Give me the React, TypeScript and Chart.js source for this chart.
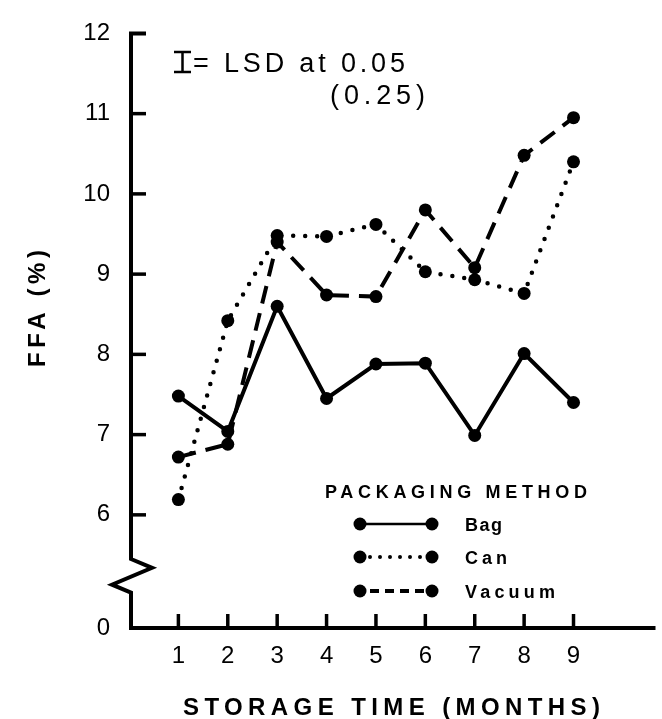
import React, { useEffect, useRef } from 'react';
import { Chart, registerables } from 'chart.js';

Chart.register(...registerables);

// ---- data ----
const months = [1, 2, 3, 4, 5, 6, 7, 8, 9];
const bag = [7.48, 7.04, 8.6, 7.45, 7.88, 7.89, 6.99, 8.01, 7.4];
const can = [6.19, 8.42, 9.48, 9.47, 9.62, 9.03, 8.93, 8.76, 10.4];
const vacuum = [6.72, 6.88, 9.4, 8.74, 8.72, 9.8, 9.08, 10.48, 10.95];
const seriesNames = ['Bag', 'Can', 'Vacuum'];
const yTickValues = [6, 7, 8, 9, 10, 11, 12];
const yZeroValue = 4.59; // axis origin shown as "0" below the break
const yZeroLabel = '0';
const xTickValues = [1, 2, 3, 4, 5, 6, 7, 8, 9];
const xTitle = 'STORAGE TIME (MONTHS)';
const yTitle = 'FFA (%)';
const legendTitle = 'PACKAGING METHOD';
const noteLine1 = '= LSD at 0.05';
const noteLine2 = '(0.25)';

const FONT = '"Liberation Sans", Arial, Helvetica, sans-serif';

function fitText(ctx: CanvasRenderingContext2D, text: string, x: number, y: number, width: number) {
  (ctx as any).letterSpacing = '0px';
  const w = ctx.measureText(text).width;
  const n = text.length;
  const ls = n > 1 ? (width - w) / (n - 1) : 0;
  (ctx as any).letterSpacing = ls + 'px';
  ctx.fillText(text, x, y);
  (ctx as any).letterSpacing = '0px';
}

const decorPlugin = {
  id: 'decor',
  afterDraw(chart: any) {
    const ctx: CanvasRenderingContext2D = chart.ctx;
    const xs = chart.scales.x;
    const ys = chart.scales.y;
    const ax = xs.getPixelForValue(0) + 2;
    const ay = ys.getPixelForValue(yZeroValue);
    ctx.save();
    ctx.strokeStyle = '#000';
    ctx.fillStyle = '#000';
    ctx.lineWidth = 4;
    ctx.lineCap = 'butt';
    ctx.lineJoin = 'miter';

    // y axis with break
    const yTop = ys.getPixelForValue(12);
    ctx.beginPath();
    ctx.moveTo(ax + 15, yTop);
    ctx.lineTo(ax, yTop);
    ctx.lineTo(ax, ys.getPixelForValue(5.45));
    ctx.lineTo(ax + 21, ys.getPixelForValue(5.34));
    ctx.lineTo(ax - 19, ys.getPixelForValue(5.13));
    ctx.lineTo(ax, ys.getPixelForValue(5.03));
    ctx.lineTo(ax, ay);
    ctx.lineTo(chart.chartArea.right, ay);
    ctx.stroke();

    // y ticks (inward)
    ctx.lineWidth = 3.5;
    yTickValues.forEach((v) => {
      if (v === 12) return;
      const py = ys.getPixelForValue(v);
      ctx.beginPath();
      ctx.moveTo(ax, py);
      ctx.lineTo(ax + 15, py);
      ctx.stroke();
    });
    // x ticks (inward)
    xTickValues.forEach((v) => {
      const px = xs.getPixelForValue(v);
      ctx.beginPath();
      ctx.moveTo(px, ay);
      ctx.lineTo(px, ay - 14);
      ctx.stroke();
    });

    // axis titles
    ctx.font = `bold 24px ${FONT}`;
    ctx.textBaseline = 'alphabetic';
    ctx.textAlign = 'left';
    fitText(ctx, xTitle, 183, 715, 417);
    ctx.save();
    ctx.translate(45, 367);
    ctx.rotate(-Math.PI / 2);
    fitText(ctx, yTitle, 0, 0, 117);
    ctx.restore();

    // LSD note: error-bar style "I"
    ctx.lineWidth = 2.5;
    ctx.beginPath();
    ctx.moveTo(174, 52); ctx.lineTo(191, 52);
    ctx.moveTo(182.5, 52); ctx.lineTo(182.5, 72);
    ctx.moveTo(174, 72); ctx.lineTo(191, 72);
    ctx.stroke();
    ctx.font = `27px ${FONT}`;
    fitText(ctx, noteLine1, 193, 72, 212);
    fitText(ctx, noteLine2, 330, 104, 95);

    // legend
    ctx.font = `bold 18px ${FONT}`;
    fitText(ctx, legendTitle, 325, 498, 262);
    const rows = [524, 557, 591];
    const dashes: number[][] = [[], [0, 10], [9, 6]];
    rows.forEach((ry, i) => {
      ctx.save();
      ctx.lineWidth = i === 0 ? 2.5 : 4;
      ctx.lineCap = i === 1 ? 'round' : 'butt';
      ctx.setLineDash(dashes[i]);
      ctx.beginPath();
      if (i === 1) {
        ctx.moveTo(370, ry); ctx.lineTo(425, ry);
      } else if (i === 2) {
        ctx.moveTo(370, ry); ctx.lineTo(425, ry);
      } else {
        ctx.moveTo(360, ry); ctx.lineTo(432, ry);
      }
      ctx.stroke();
      ctx.restore();
      [360, 432].forEach((mx) => {
        ctx.beginPath();
        ctx.arc(mx, ry, 6.5, 0, Math.PI * 2);
        ctx.fill();
      });
      const lw = [37, 42, 90][i];
      fitText(ctx, seriesNames[i], 465, ry + 7, lw);
    });
    ctx.restore();
  },
};

export default function App() {
  const ref = useRef<HTMLCanvasElement | null>(null);
  useEffect(() => {
    document.body.style.margin = '0';
    const mk = (vals: number[]) => months.map((m, i) => ({ x: m, y: vals[i] }));
    const common = {
      borderColor: '#000',
      backgroundColor: '#000',
      pointBackgroundColor: '#000',
      pointBorderWidth: 0,
      pointRadius: 6.5,
      fill: false,
      tension: 0,
    };
    const chart = new Chart(ref.current as HTMLCanvasElement, {
      type: 'line',
      data: {
        datasets: [
          { ...common, label: seriesNames[0], data: mk(bag), borderWidth: 4 },
          { ...common, label: seriesNames[1], data: mk(can), borderWidth: 4.5, borderDash: [0, 12], borderCapStyle: 'round' },
          { ...common, label: seriesNames[2], data: mk(vacuum), borderWidth: 4, borderDash: [18, 10] },
        ] as any,
      },
      options: {
        animation: false,
        responsive: false,
        devicePixelRatio: 1,
        layout: { padding: { top: 20, left: 0, right: 0, bottom: 0 } },
        plugins: { legend: { display: false }, tooltip: { enabled: false }, title: { display: false } },
        scales: {
          x: {
            type: 'linear',
            min: 0,
            max: 10.66,
            grid: { display: false, drawTicks: false },
            border: { display: false },
            afterFit: (s: any) => { s.height = 91; },
            afterBuildTicks: (s: any) => { s.ticks = xTickValues.map((v) => ({ value: v })); },
            ticks: { color: '#000', font: { family: FONT, size: 24 }, padding: 14, maxRotation: 0, autoSkip: false },
          },
          y: {
            type: 'linear',
            min: yZeroValue,
            max: 12,
            grid: { display: false, drawTicks: false },
            border: { display: false },
            afterFit: (s: any) => { s.width = 129; },
            afterBuildTicks: (s: any) => {
              s.ticks = [{ value: yZeroValue }, ...yTickValues.map((v) => ({ value: v }))];
            },
            ticks: {
              color: '#000',
              font: { family: FONT, size: 24 },
              padding: 19,
              autoSkip: false,
              callback: (v: any) => (Math.abs(v - yZeroValue) < 0.01 ? yZeroLabel : String(v)),
            },
          },
        },
      } as any,
      plugins: [decorPlugin],
    });
    return () => chart.destroy();
  }, []);
  return (
    <div style={{ width: 662, height: 719 }}>
      <canvas ref={ref} width={662} height={719} style={{ display: 'block', width: 662, height: 719 }} />
    </div>
  );
}
